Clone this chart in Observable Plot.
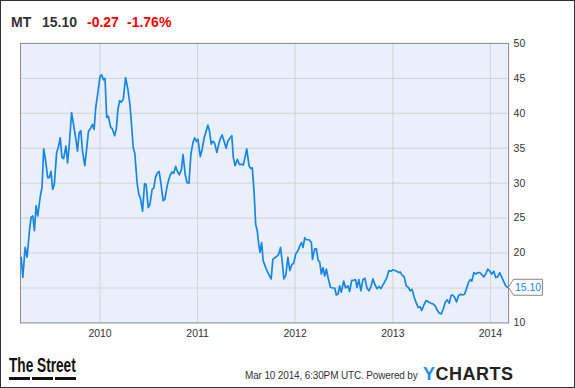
<!DOCTYPE html>
<html>
<head>
<meta charset="utf-8">
<script src="https://cdn.jsdelivr.net/npm/d3@7"></script>
<script src="https://cdn.jsdelivr.net/npm/@observablehq/plot@0.6"></script>
<style>
  html, body { margin: 0; padding: 0; background: #fff; }
  #wrap { position: relative; width: 575px; height: 388px; box-sizing: border-box; border: 1px solid #333; overflow: hidden; font-family: "Liberation Sans", Arial, sans-serif; }
  #chart { position: absolute; left: -1px; top: -1px; }
  .title { position: absolute; top: 14px; font-size: 14px; line-height: 14px; font-weight: bold; white-space: nowrap; }
  .stamp { position: absolute; left: 244px; top: 369px; font-size: 10px; letter-spacing: -0.15px; line-height: 11px; color: #333; white-space: nowrap; }
  .ych { position: absolute; left: 422px; top: 364px; font-size: 18px; line-height: 18px; font-weight: bold; letter-spacing: 0.5px; color: #222; white-space: nowrap; }
  .ych .y { color: #1e8fe8; }
  .street { position: absolute; left: 8px; top: 355px; font-size: 19.5px; line-height: 19.5px; font-weight: bold; color: #111; white-space: nowrap; transform: scaleX(0.7); transform-origin: left top; }
  .dash { position: absolute; top: 376px; height: 3px; width: 21px; background: #111; }
</style>
</head>
<body>
<div id="wrap">
  <div id="chart"></div>
  <div class="title" style="left:10px;color:#333">MT</div>
  <div class="title" style="left:41px;color:#333" id="lastPrice"></div>
  <div class="title" style="left:86px;color:#f00" id="chg"></div>
  <div class="title" style="left:126px;color:#f00" id="pct"></div>
  <div class="street">The Street</div>
  <div class="dash" style="left:8px"></div>
  <div class="dash" style="left:31px"></div>
  <div class="dash" style="left:54px"></div>
  <div class="stamp" id="stamp"></div>
  <div class="ych"><span class="y">Y</span>CHARTS</div>
</div>
<script>
// ---- data (decimal year, closing price) ----
const times = [
2009.191,2009.208,2009.232,2009.252,2009.276,2009.293,2009.310,2009.327,2009.344,2009.361,
2009.388,2009.405,2009.422,2009.439,2009.463,2009.480,2009.497,2009.514,2009.531,2009.555,
2009.572,2009.592,2009.609,2009.626,2009.650,2009.667,2009.684,2009.708,2009.728,2009.752,
2009.769,2009.786,2009.803,2009.820,2009.844,2009.864,2009.881,2009.905,2009.922,2009.939,
2009.956,2009.980,2010.000,2010.017,2010.034,2010.051,2010.068,2010.085,2010.109,2010.126,
2010.150,2010.167,2010.184,2010.201,2010.218,2010.238,2010.262,2010.286,2010.306,2010.323,
2010.340,2010.357,2010.381,2010.398,2010.415,2010.436,2010.456,2010.473,2010.494,2010.511,
2010.534,2010.551,2010.568,2010.585,2010.606,2010.626,2010.647,2010.664,2010.687,2010.704,
2010.721,2010.738,2010.755,2010.776,2010.796,2010.813,2010.834,2010.851,2010.874,2010.891,
2010.912,2010.932,2010.953,2010.970,2010.987,2011.004,2011.028,2011.048,2011.068,2011.089,
2011.106,2011.122,2011.140,2011.157,2011.173,2011.198,2011.214,2011.232,2011.252,2011.272,
2011.293,2011.310,2011.334,2011.351,2011.367,2011.385,2011.408,2011.429,2011.453,2011.469,
2011.487,2011.504,2011.528,2011.545,2011.561,2011.579,2011.596,2011.612,2011.627,2011.640,
2011.657,2011.673,2011.691,2011.714,2011.735,2011.755,2011.772,2011.790,2011.810,2011.831,
2011.851,2011.867,2011.885,2011.905,2011.926,2011.946,2011.966,2011.987,2012.007,2012.028,
2012.048,2012.065,2012.082,2012.099,2012.116,2012.143,2012.167,2012.178,2012.201,2012.218,
2012.235,2012.252,2012.269,2012.286,2012.303,2012.320,2012.337,2012.361,2012.385,2012.405,
2012.422,2012.439,2012.456,2012.473,2012.497,2012.517,2012.541,2012.558,2012.579,2012.599,
2012.619,2012.633,2012.653,2012.673,2012.694,2012.714,2012.735,2012.755,2012.776,2012.796,
2012.816,2012.837,2012.857,2012.878,2012.898,2012.918,2012.939,2012.959,2012.980,2013.000,
2013.020,2013.041,2013.061,2013.075,2013.096,2013.116,2013.137,2013.157,2013.178,2013.198,
2013.218,2013.239,2013.259,2013.280,2013.296,2013.316,2013.341,2013.367,2013.392,2013.415,
2013.436,2013.456,2013.477,2013.497,2013.517,2013.538,2013.558,2013.579,2013.596,2013.612,
2013.633,2013.653,2013.673,2013.694,2013.714,2013.735,2013.755,2013.776,2013.793,2013.810,
2013.831,2013.851,2013.871,2013.892,2013.912,2013.933,2013.953,2013.973,2013.994,2014.014,
2014.035,2014.055,2014.075,2014.096,2014.116,2014.137,2014.157,2014.177,2014.186
];
const prices = [
19.4,16.5,20.8,19.4,23.2,25.1,25.3,23.2,26.8,25.3,
28.2,29.4,34.9,33.5,30.8,30.8,31.7,29.1,29.8,34.4,
35.1,36.5,33.7,33.5,35.3,32.9,35.4,40.1,38.4,36.3,
34.6,37.2,37.5,34.6,32.5,35.1,37.4,37.9,38.4,37.7,
40.8,43.2,45.3,45.5,44.8,45.0,39.4,39.6,38.0,37.8,
36.8,37.8,40.6,41.8,41.6,42.0,45.1,43.4,41.3,38.4,
35.1,34.2,29.9,28.4,27.8,26.0,29.9,29.8,26.5,26.9,
29.1,29.3,30.8,31.4,31.7,29.8,27.5,27.7,29.5,30.5,
31.2,31.6,31.4,32.4,31.6,31.2,31.9,34.1,31.2,30.1,
30.0,34.2,35.8,36.5,36.0,36.3,33.8,34.9,36.5,37.5,
38.3,37.5,35.6,36.0,35.8,34.4,35.4,36.3,36.9,36.0,
35.0,36.0,36.5,36.8,33.7,32.5,33.4,32.7,32.7,32.6,
33.7,34.9,32.5,32.1,32.2,28.9,24.1,23.2,21.3,20.1,
21.5,18.9,18.2,17.4,16.8,16.3,19.1,19.3,19.5,19.8,
20.8,18.9,16.3,16.8,19.4,17.5,18.3,18.6,19.9,20.3,
21.0,21.5,20.8,22.2,21.9,21.9,21.5,19.1,20.6,20.6,
19.0,18.7,17.0,17.9,16.7,17.7,16.5,15.1,15.0,15.0,
14.0,14.1,15.3,14.4,16.0,15.0,15.3,14.5,16.1,16.1,
16.2,15.1,16.2,14.6,16.2,16.4,15.0,14.6,15.2,16.3,
15.5,14.9,15.2,14.9,15.4,15.9,16.5,17.5,17.4,17.6,
17.5,17.4,17.2,17.3,16.8,16.6,15.3,15.1,14.6,14.8,
13.7,12.9,12.2,12.3,11.8,12.5,13.2,13.0,12.8,12.7,
12.4,11.8,11.4,11.3,12.0,13.0,13.3,12.8,13.9,14.0,
13.7,13.0,13.9,14.1,14.0,14.1,14.9,15.8,16.2,16.0,
17.2,17.0,17.2,17.2,16.9,16.6,17.0,17.7,17.4,17.0,
17.4,16.5,16.6,17.2,16.6,15.9,15.3,15.1,15.10
];
const yearTicks = [2010, 2011, 2012, 2013, 2014];
const priceTicks = [10, 15, 20, 25, 30, 35, 40, 45, 50];
// the "15" label is hidden behind the last-price callout in the original
const priceTickLabels = [10, 20, 25, 30, 35, 40, 45, 50];
const xDomainYears = [2009.184, 2014.187];
const yDomain = [10, 50];
const ticker = "MT";
const change = -0.27;
const changePct = -1.76;
const stampText = "Mar 10 2014, 6:30PM UTC.  Powered by";

function fromDecimalYear(y) {
  const yr = Math.floor(y);
  const s = Date.UTC(yr, 0, 1), e = Date.UTC(yr + 1, 0, 1);
  return new Date(s + (y - yr) * (e - s));
}
const data = times.map((t, i) => ({date: fromDecimalYear(t), price: prices[i]}));
const last = data[data.length - 1];

document.getElementById("lastPrice").textContent = last.price.toFixed(2);
document.getElementById("chg").textContent = change.toFixed(2);
document.getElementById("pct").textContent = changePct.toFixed(2) + "%";
document.getElementById("stamp").textContent = stampText;

// callout symbol: arrow pointing left at the point, box to the right
const callout = {
  draw(ctx) {
    ctx.moveTo(0, 0);
    ctx.lineTo(5, -8);
    ctx.lineTo(34, -8);
    ctx.lineTo(34, 8);
    ctx.lineTo(5, 8);
    ctx.closePath();
  }
};

const chart = Plot.plot({
  width: 575,
  height: 388,
  marginLeft: 20,
  marginRight: 66,
  marginTop: 43,
  marginBottom: 65,
  style: {fontFamily: "'Liberation Sans', Arial, sans-serif", fontSize: "10.5px", color: "#333", background: "transparent"},
  x: {type: "utc", domain: xDomainYears.map(fromDecimalYear), ticks: yearTicks.map(y => new Date(Date.UTC(y, 0, 1))), tickFormat: d3.utcFormat("%Y"), tickSize: 0, tickPadding: 7, label: null},
  y: {domain: yDomain, ticks: priceTickLabels, tickSize: 0, tickPadding: 5, label: null, axis: "right"},
  marks: [
    Plot.frame({fill: "#eaf0fb"}),
    Plot.gridY(priceTicks.slice(1, -1), {stroke: "#d2d2d2", strokeOpacity: 1}),
    Plot.gridX(yearTicks.map(y => new Date(Date.UTC(y, 0, 1))), {stroke: "#d2d2d2", strokeOpacity: 1}),
    Plot.frame({stroke: "#888"}),
    Plot.line(data, {x: "date", y: "price", stroke: "#1686e6", strokeWidth: 1.7, strokeLinejoin: "round"}),
    Plot.dot([last], {x: "date", y: "price", symbol: callout, fill: "#fff", stroke: "#888", strokeWidth: 1}),
    Plot.text([last], {x: "date", y: "price", text: d => d.price.toFixed(2), dx: 19.5, fill: "#1686e6", fontSize: 10.5})
  ]
});
document.getElementById("chart").appendChild(chart);
</script>
</body>
</html>
